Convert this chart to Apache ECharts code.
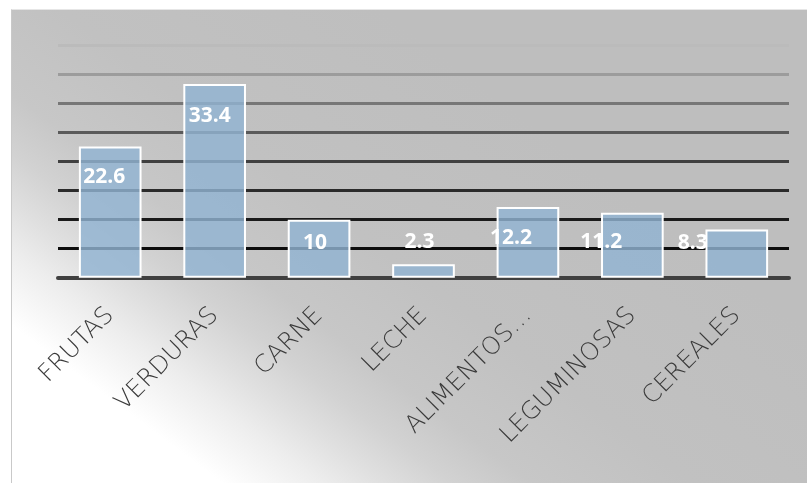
<!DOCTYPE html>
<html>
<head>
<meta charset="utf-8">
<script src="https://cdn.jsdelivr.net/npm/echarts@6/dist/echarts.min.js"></script>
<style>
  html, body { margin: 0; padding: 0; background: #ffffff; }
  #frame { position: absolute; left: 11px; top: 9px; width: 796px; height: 474px;
           border-left: 1px solid #c9c9c9; border-top: 1px solid #e6e6e6; box-sizing: border-box; }
  #chart { position: absolute; left: 0; top: 0; width: 795px; height: 473px; }
</style>
</head>
<body>
<div id="frame"><div id="chart"></div></div>
<script>
// ---- data ----
const categories = ['FRUTAS', 'VERDURAS', 'CARNE', 'LECHE', 'ALIMENTOS…', 'LEGUMINOSAS', 'CEREALES'];
const values = [22.6, 33.4, 10, 2.3, 12.2, 11.2, 8.3];
const yMin = 0;
const yMax = 40;
const yStep = 5;

// ---- styling (label placement quirks of the original) ----
const labelShift = [[-6, 20], [-5, 22], [-4, 13], [-4, -33], [-17, 21], [-31, 19], [-44, 3]];
const gridColors = ['rgba(0,0,0,0)', '#0d0d0d', '#1a1a1a', '#2b2b2b', '#404040', '#5a5a5a', '#777777', '#9c9c9c', '#bbbbbb'];

const chart = echarts.init(document.getElementById('chart'), null, { renderer: 'canvas' });

const option = {
  animation: false,
  backgroundColor: {
    type: 'linear', x: 0, y: 1, x2: 0.452, y2: -0.015,
    colorStops: [
      { offset: 0, color: '#ffffff' },
      { offset: 0.21, color: '#ffffff' },
      { offset: 0.31, color: '#ededed' },
      { offset: 0.37, color: '#e0e0e0' },
      { offset: 0.44, color: '#d2d2d2' },
      { offset: 0.52, color: '#c7c7c7' },
      { offset: 0.68, color: '#c1c1c1' },
      { offset: 1, color: '#bebebe' }
    ]
  },
  grid: { left: 46, right: 18, top: 35.7, bottom: 205.3, containLabel: false },
  xAxis: {
    type: 'category',
    data: categories,
    axisLine: { show: true, lineStyle: { color: '#404040', width: 4 } },
    axisTick: { show: false },
    axisLabel: {
      interval: 0, rotate: 45, margin: 34,
      color: '#3a3a3a', fontSize: 24.5, fontFamily: 'DejaVu Sans', fontWeight: 200
    },
    splitLine: { show: false }
  },
  yAxis: {
    type: 'value', min: yMin, max: yMax, interval: yStep,
    axisLine: { show: false }, axisTick: { show: false }, axisLabel: { show: false },
    splitLine: { show: true, lineStyle: { color: gridColors, width: 3 } }
  },
  series: [{
    type: 'bar',
    barWidth: '60%',
    data: values.map((v, i) => ({
      value: v,
      label: { offset: labelShift[i] }
    })),
    itemStyle: { color: 'rgba(145,179,210,0.82)', borderColor: '#ffffff', borderWidth: 2 },
    label: {
      show: true, position: 'insideTop', distance: 0,
      color: '#ffffff', fontFamily: 'Open Sans', fontWeight: 'bold', fontSize: 21,
      formatter: '{c}'
    }
  }]
};
chart.setOption(option);
</script>
</body>
</html>
